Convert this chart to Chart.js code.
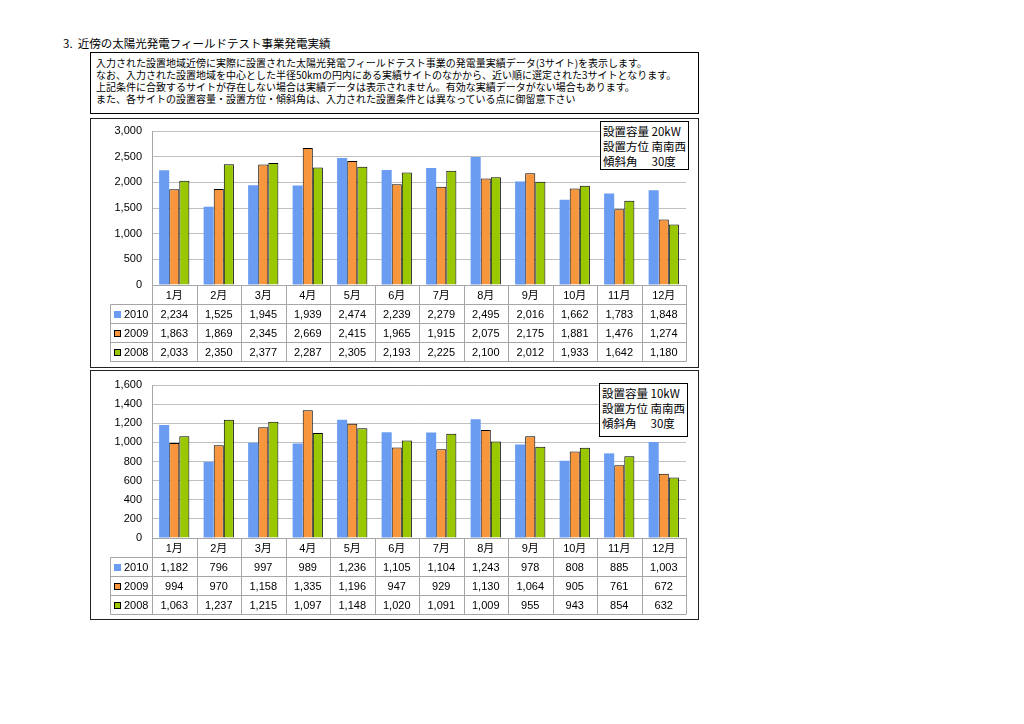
<!DOCTYPE html>
<html lang="ja">
<head>
<meta charset="utf-8">
<title>近傍の太陽光発電フィールドテスト事業発電実績</title>
<script src="https://cdn.jsdelivr.net/npm/chart.js@4.4.1/dist/chart.umd.min.js"></script>
<style>
  body { margin: 0; width: 1024px; height: 724px; background: #fff; position: relative; font-family: "Noto Sans CJK JP", sans-serif; color: #000; }
  .title { position: absolute; left: 63px; top: 35px; font-size: 11.5px; line-height: 16px; }
  .note { position: absolute; left: 90px; top: 52px; width: 609px; height: 62px; box-sizing: border-box; border: 1px solid #000; padding: 4px 0 0 5px; font-size: 10px; line-height: 12px; }
  .chartbox { position: absolute; left: 90px; width: 609px; height: 250px; box-sizing: border-box; border: 1px solid #222; }
  .chartbox canvas { position: absolute; left: 0; top: 0; }
  .spec { position: absolute; border: 1px solid #000; background: #fff; font-size: 11.5px; line-height: 15px; white-space: pre; padding: 2px 0 0 2px; box-sizing: border-box; }
</style>
</head>
<body>
<div class="title">3.&nbsp;&nbsp;近傍の太陽光発電フィールドテスト事業発電実績</div>
<div class="note">入力された設置地域近傍に実際に設置された太陽光発電フィールドテスト事業の発電量実績データ(3サイト)を表示します。<br>なお、入力された設置地域を中心とした半径50kmの円内にある実績サイトのなかから、近い順に選定された3サイトとなります。<br>上記条件に合致するサイトが存在しない場合は実績データは表示されません。有効な実績データがない場合もあります。<br>また、各サイトの設置容量・設置方位・傾斜角は、入力された設置条件とは異なっている点に御留意下さい</div>

<div class="chartbox" style="top:118px">
  <canvas id="chart20" width="607" height="248"></canvas>
  <div class="spec" style="left:509px; top:2px; width:89px; height:49px">設置容量 20kW
設置方位 南南西
傾斜角　 30度</div>
</div>

<div class="chartbox" style="top:370px">
  <canvas id="chart10" width="607" height="248"></canvas>
  <div class="spec" style="left:508px; top:12px; width:89px; height:54px">設置容量 10kW
設置方位 南南西
傾斜角　 30度</div>
</div>

<script>
const months = ['1月', '2月', '3月', '4月', '5月', '6月', '7月', '8月', '9月', '10月', '11月', '12月'];
const years = ['2010', '2009', '2008'];
const yearColours = ['#6a9cf2', '#f7963c', '#99c800'];
const yearBorders = [0, 1, 1];

// 20kW site (kWh per month)
const kw20_2010 = [2234, 1525, 1945, 1939, 2474, 2239, 2279, 2495, 2016, 1662, 1783, 1848];
const kw20_2009 = [1863, 1869, 2345, 2669, 2415, 1965, 1915, 2075, 2175, 1881, 1476, 1274];
const kw20_2008 = [2033, 2350, 2377, 2287, 2305, 2193, 2225, 2100, 2012, 1933, 1642, 1180];
const yTicks20 = [0, 500, 1000, 1500, 2000, 2500, 3000];

// 10kW site
const kw10_2010 = [1182, 796, 997, 989, 1236, 1105, 1104, 1243, 978, 808, 885, 1003];
const kw10_2009 = [994, 970, 1158, 1335, 1196, 947, 929, 1130, 1064, 905, 761, 672];
const kw10_2008 = [1063, 1237, 1215, 1097, 1148, 1020, 1091, 1009, 955, 943, 854, 632];
const yTicks10 = [0, 200, 400, 600, 800, 1000, 1200, 1400, 1600];

const FONT = "'Liberation Sans', 'Noto Sans CJK JP', sans-serif";
const LINE = '#a6a6a6';

// data table under the plot, columns taken from the x scale
const dataTable = {
  id: 'dataTable',
  afterDraw(chart) {
    const ctx = chart.ctx;
    const x = chart.scales.x;
    const area = chart.chartArea;
    const n = chart.data.labels.length;
    const rowH = 19;
    const top = area.bottom;
    const left = x.getPixelForValue(-0.5);
    const right = x.getPixelForValue(n - 0.5);
    const headLeft = left - 42;
    const rows = chart.data.datasets.length;
    const bottom = top + rowH * (rows + 1);
    const px = v => Math.round(v) + 0.5;

    ctx.save();
    ctx.strokeStyle = LINE;
    ctx.lineWidth = 1;
    ctx.beginPath();
    ctx.moveTo(left, px(top)); ctx.lineTo(right, px(top));
    for (let r = 1; r <= rows + 1; r++) {
      ctx.moveTo(px(headLeft), px(top + rowH * r));
      ctx.lineTo(right, px(top + rowH * r));
    }
    for (let i = 0; i <= n; i++) {
      const xx = px(x.getPixelForValue(i - 0.5));
      ctx.moveTo(xx, top); ctx.lineTo(xx, px(bottom));
    }
    ctx.moveTo(px(headLeft), px(top + rowH)); ctx.lineTo(px(headLeft), px(bottom));
    ctx.stroke();

    ctx.fillStyle = '#000';
    ctx.font = '11px ' + FONT;
    ctx.textBaseline = 'middle';
    ctx.textAlign = 'center';
    chart.data.labels.forEach((lab, i) => {
      ctx.fillText(lab, x.getPixelForValue(i), top + rowH / 2 + 1);
    });
    chart.data.datasets.forEach((ds, r) => {
      const cy = top + rowH * (r + 1) + rowH / 2 + 1;
      ctx.textAlign = 'center';
      ctx.fillStyle = '#000';
      ds.data.forEach((v, i) => {
        ctx.fillText(v.toLocaleString('en-US'), x.getPixelForValue(i), cy);
      });
      // legend key
      const ky = Math.round(cy - 4);
      ctx.fillStyle = ds.backgroundColor;
      ctx.fillRect(headLeft + 4, ky, 7, 7);
      if (ds.borderWidth) {
        ctx.strokeStyle = '#000';
        ctx.strokeRect(headLeft + 4.5, ky + 0.5, 6, 6);
      }
      ctx.fillStyle = '#000';
      ctx.textAlign = 'left';
      ctx.fillText(ds.label, headLeft + 14, cy);
    });
    ctx.restore();
  }
};

function makeChart(id, series, yTicks, padTop, padBottom) {
  return new Chart(document.getElementById(id), {
    type: 'bar',
    data: {
      labels: months,
      datasets: series.map((vals, i) => ({
        label: years[i],
        data: vals,
        backgroundColor: yearColours[i],
        borderColor: '#000',
        borderWidth: yearBorders[i],
        categoryPercentage: 0.68,
        barPercentage: 1.0
      }))
    },
    options: {
      responsive: false,
      animation: false,
      devicePixelRatio: 1,
      locale: 'en-US',
      layout: { padding: { left: 0, right: 12, top: padTop, bottom: padBottom } },
      plugins: {
        legend: { display: false },
        tooltip: { enabled: false }
      },
      scales: {
        x: { display: false },
        y: {
          min: yTicks[0],
          max: yTicks[yTicks.length - 1],
          afterFit: (scale) => {
            // fixed axis width; plot top/bottom set by layout padding only
            scale.width = 61;
            scale.paddingTop = 0;
            scale.paddingBottom = 0;
          },
          ticks: {
            stepSize: yTicks[1] - yTicks[0],
            padding: 10,
            color: '#000',
            font: { family: FONT, size: 11 }
          },
          grid: { color: '#bfbfbf', drawTicks: false },
          border: { color: LINE }
        }
      }
    },
    plugins: [dataTable]
  });
}

makeChart('chart20', [kw20_2010, kw20_2009, kw20_2008], yTicks20, 12, 82);
makeChart('chart10', [kw10_2010, kw10_2009, kw10_2008], yTicks10, 14, 81);
</script>
</body>
</html>
